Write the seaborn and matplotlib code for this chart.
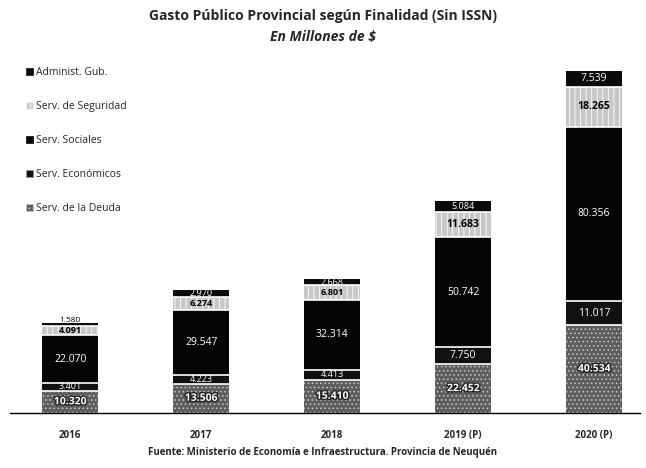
import matplotlib
matplotlib.use("Agg")
import matplotlib.pyplot as plt
import matplotlib.patheffects as pe
import numpy as np
import pandas as pd
import seaborn as sns

# Gasto por finalidad, en miles de millones de $ (se muestran como "10.320" = 10.320 millones)
anios = ["2016", "2017", "2018", "2019 (P)", "2020 (P)"]
deuda = [10.320, 13.506, 15.410, 22.452, 40.534]
economicos = [3.401, 4.223, 4.413, 7.750, 11.017]
sociales = [22.070, 29.547, 32.314, 50.742, 80.356]
seguridad = [4.091, 6.274, 6.801, 11.683, 18.265]
administ = [1.580, 2.970, 2.668, 5.084, 7.539]

series = ["Serv. de la Deuda", "Serv. Económicos", "Serv. Sociales",
          "Serv. de Seguridad", "Administ. Gub."]
valores = [deuda, economicos, sociales, seguridad, administ]

# estilos: (relleno, color de trama, trama, color de etiqueta)
estilos = {
    "Serv. de la Deuda": ("#5e5e5e", "#c8c8c8", "....", "white"),
    "Serv. Económicos": ("#111111", "#9a9a9a", "", "white"),
    "Serv. Sociales": ("#050505", "#050505", "", "white"),
    "Serv. de Seguridad": ("#c8c8c8", "#ffffff", "|||", "black"),
    "Administ. Gub.": ("#0a0a0a", "#0a0a0a", "", "white"),
}

sns.set_theme(style="white")
plt.rcParams["font.family"] = ["Open Sans", "DejaVu Sans"]
plt.rcParams["hatch.linewidth"] = 0.6

df = pd.DataFrame({"anio": anios})
acum = np.cumsum(np.array(valores), axis=0)
for i, s in enumerate(series):
    df[s] = acum[i]

fig = plt.figure(figsize=(6.46, 4.68), dpi=100)
ax = fig.add_axes([10 / 646, 55 / 468, 630 / 646, 343 / 468])

# barras apiladas: se dibuja cada acumulado, del mayor al menor
for i in range(len(series) - 1, -1, -1):
    s = series[i]
    fc, hc, hatch, _ = estilos[s]
    sns.barplot(data=df, x="anio", y=s, ax=ax, color=fc, width=0.43,
                saturation=1, edgecolor=hc, linewidth=0, hatch=hatch,
                label=s)

# separadores blancos entre segmentos
xs = np.arange(len(anios))
for i in range(len(series) - 1):
    ax.hlines(acum[i], xs - 0.215, xs + 0.215, colors="white", linewidth=1.2)

# etiquetas de valor
for i, s in enumerate(series):
    base = acum[i] - np.array(valores[i])
    tc = estilos[s][3]
    negrita = s in ("Serv. de Seguridad", "Serv. de la Deuda")
    for j, v in enumerate(valores[i]):
        y, va, fs = base[j] + v / 2, "center", 7.5
        if v < 7:
            fs = 6.5
        if v < 2:
            # segmento muy fino: la etiqueta se apoya sobre el borde superior
            y, va, fs = base[j] + v * 0.6, "bottom", 6
        t = ax.text(xs[j], y, f"{v:.3f}", ha="center", va=va, fontsize=fs,
                    color="black" if va == "bottom" else tc,
                    fontweight="bold" if negrita else "normal")
        if s == "Serv. de la Deuda":
            t.set_path_effects([pe.withStroke(linewidth=2, foreground="#222222")])

ax.set_xlim(-0.46, 4.35)
ax.set_ylim(0, 158)
ax.set_xlabel("")
ax.set_ylabel("")
ax.set_yticks([])
for sp in ["left", "right", "top"]:
    ax.spines[sp].set_visible(False)
ax.spines["bottom"].set_color("black")
ax.spines["bottom"].set_linewidth(1.0)
ax.tick_params(axis="x", length=0, pad=12)
for lb in ax.get_xticklabels():
    lb.set_fontsize(7)
    lb.set_fontweight("bold")

# leyenda en orden inverso (de arriba hacia abajo)
h, l = ax.get_legend_handles_labels()
leg = ax.legend(h[:5], l[:5], loc="upper left", bbox_to_anchor=(0.01, 1.035),
                frameon=False, fontsize=7.5, labelspacing=2.2,
                handlelength=0.7, handleheight=0.7, handletextpad=0.3)
for p in leg.get_patches():
    p.set_linewidth(0.5)

fig.text(0.5, 1 - 16 / 468, "Gasto Público Provincial según Finalidad (Sin ISSN)",
         ha="center", va="center", fontsize=10, fontweight="bold")
fig.text(0.5, 1 - 37 / 468, "En Millones de $", ha="center", va="center",
         fontsize=10, fontweight="bold", style="italic")
fig.text(0.5, 1 - 453 / 468,
         "Fuente: Ministerio de Economía e Infraestructura. Provincia de Neuquén",
         ha="center", va="center", fontsize=7, fontweight="bold")

fig.savefig("out.png", dpi=100)
